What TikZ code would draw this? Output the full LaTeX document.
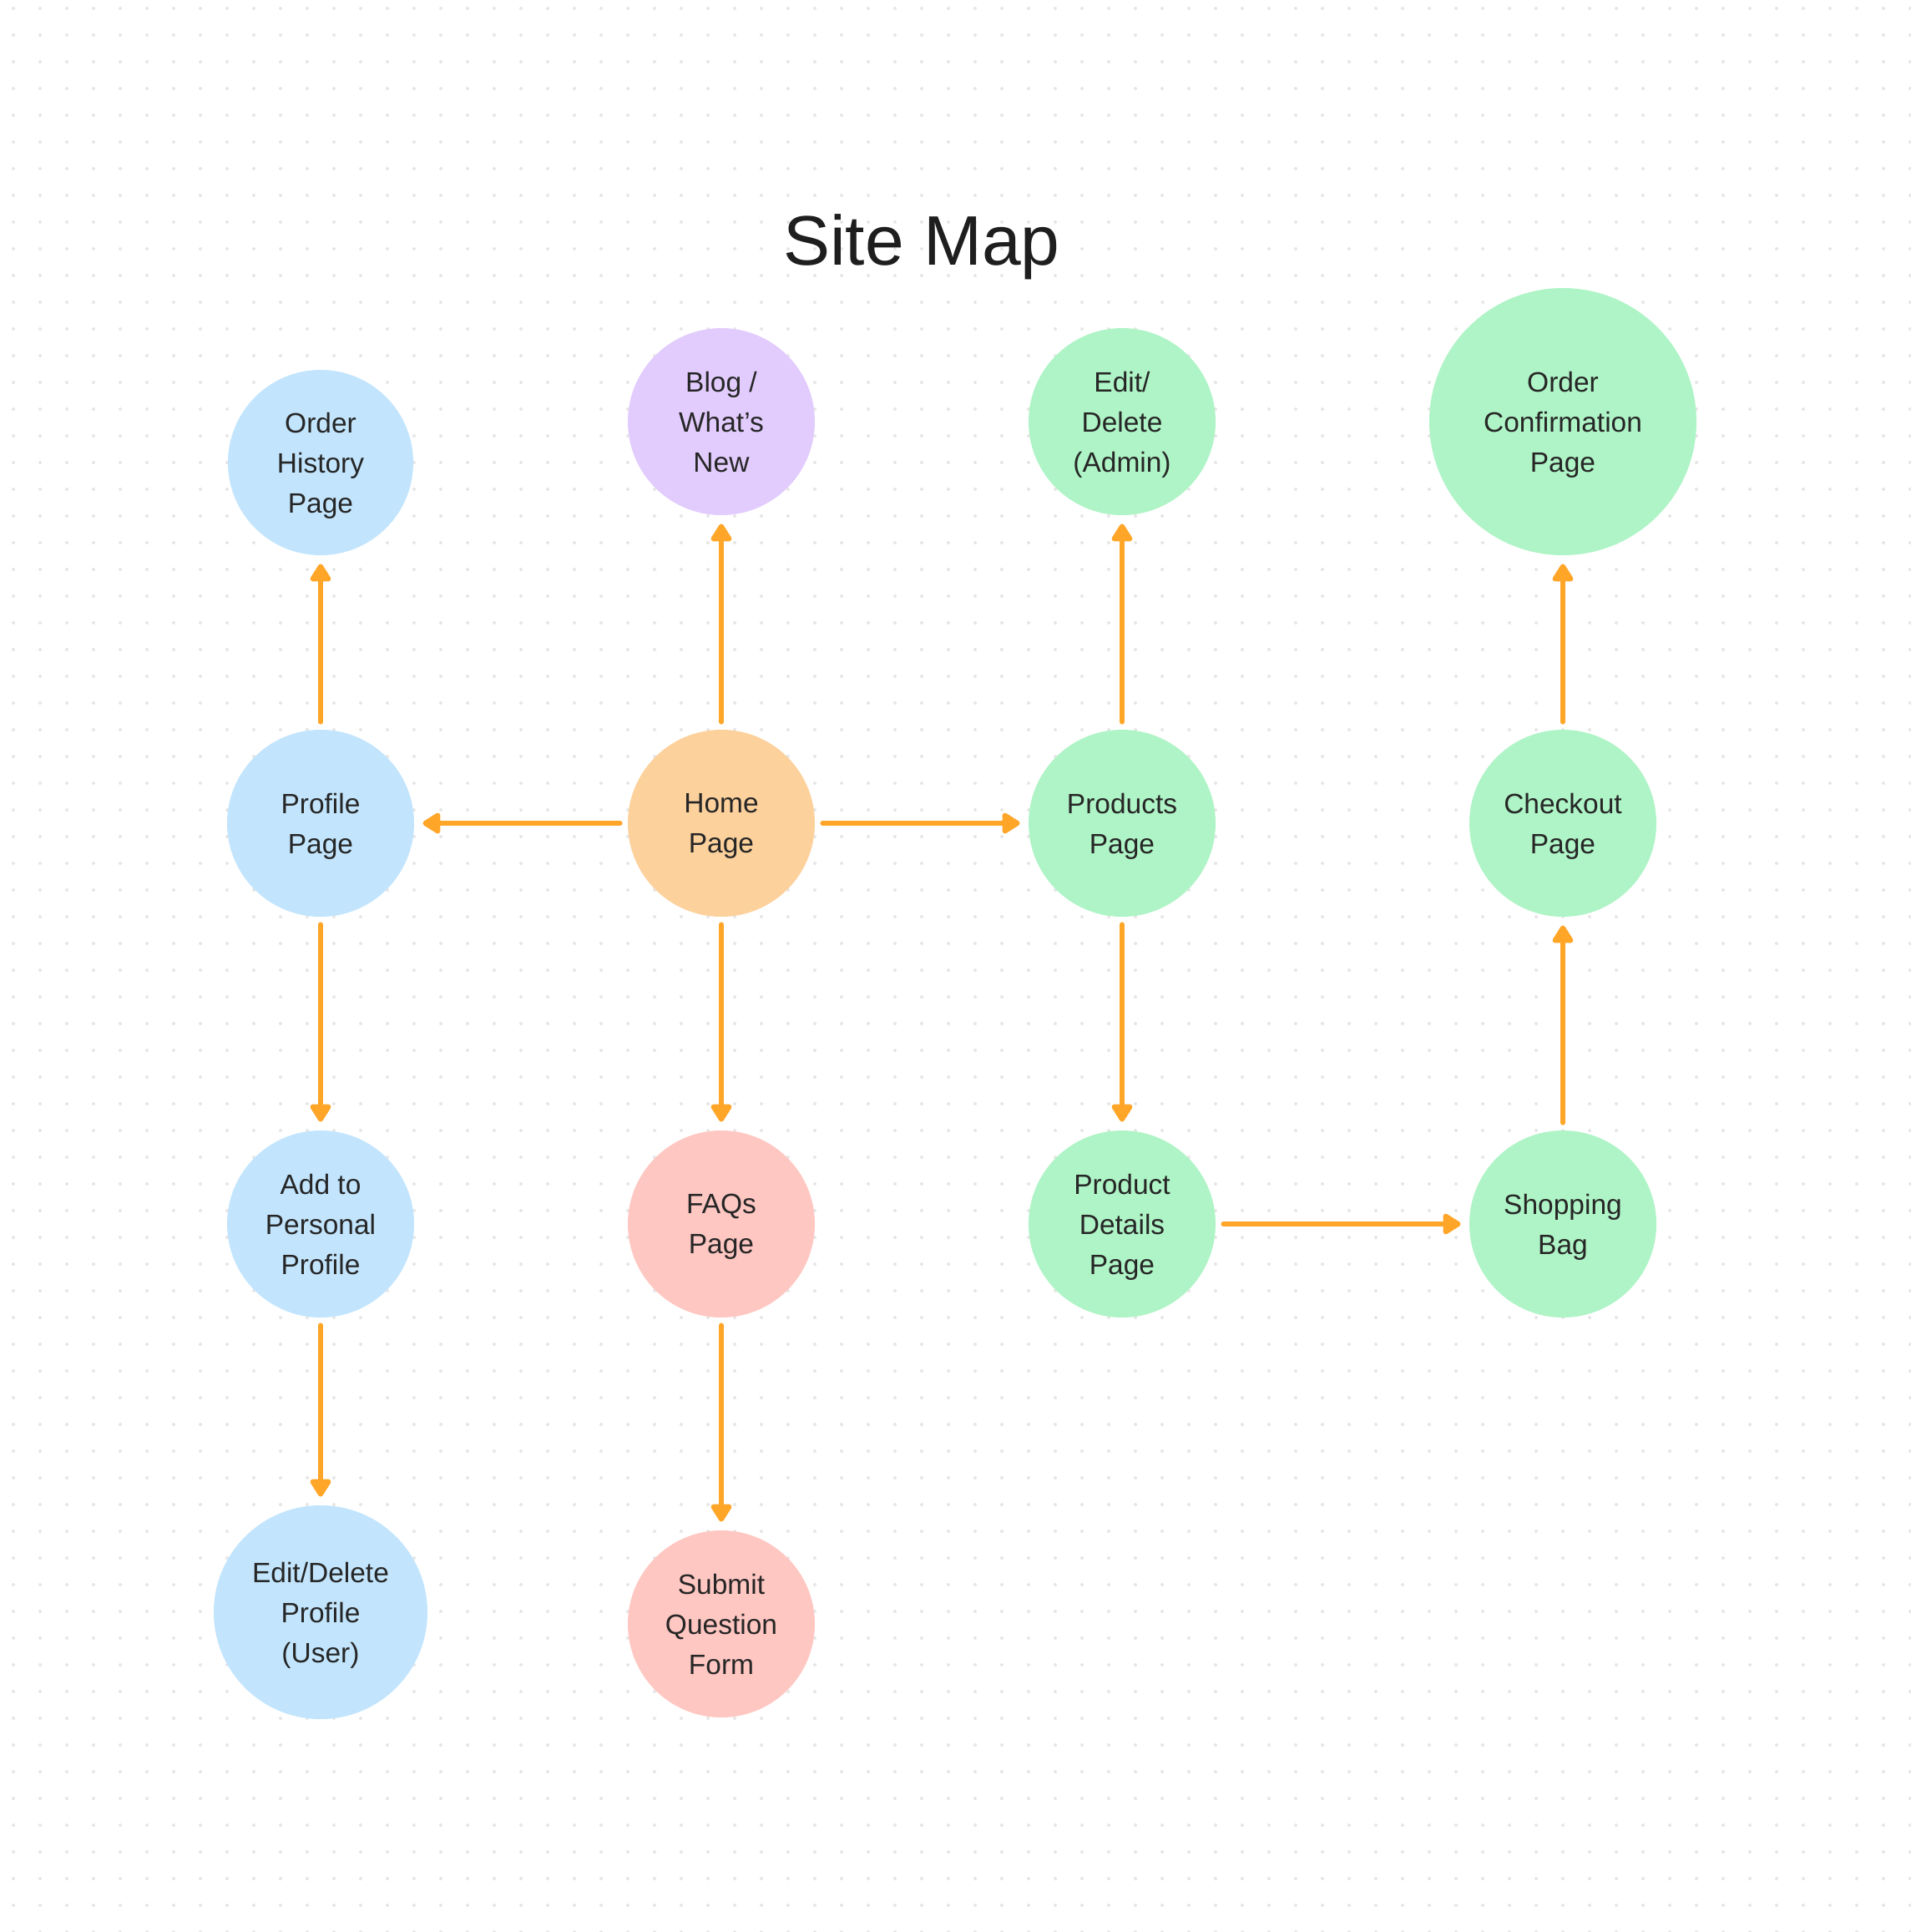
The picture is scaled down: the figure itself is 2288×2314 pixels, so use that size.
\documentclass[tikz,border=0pt]{standalone}
\usepackage{fontspec}
\setmainfont{Liberation Sans}
\usetikzlibrary{arrows.meta}
\definecolor{bluec}{HTML}{C2E5FD}
\definecolor{purplec}{HTML}{E2CCFD}
\definecolor{greenc}{HTML}{AFF4C6}
\definecolor{orangec}{HTML}{FCD19C}
\definecolor{pinkc}{HTML}{FFC7C2}
\definecolor{arrowc}{HTML}{FFA629}
\definecolor{dotc}{HTML}{E6E6E6}
\definecolor{textc}{HTML}{262626}
\definecolor{titlec}{HTML}{1E1E1E}
\tikzset{
  pagenode/.style={circle, inner sep=0pt, minimum size=112pt, align=center,
    text=textc, text depth=0pt, font=\fontsize{16.75pt}{24pt}\selectfont},
  arr/.style={draw=arrowc, line width=3pt, line cap=round,
    -{Triangle[length=12pt,width=14pt,round]},
    shorten <=4.5pt, shorten >=5pt}
}
\begin{document}
\begin{tikzpicture}[x=0.5pt,y=-0.5pt]
\useasboundingbox[fill=white] (0,0) rectangle (2288,2314);
\foreach \i in {0,...,71}{
  \foreach \j in {0,...,72}{
    \fill[dotc] (16+32*\i,10+32*\j) circle (1pt);
  }
}
\node[anchor=base, text=titlec, font=\fontsize{42pt}{48pt}\selectfont] (title) at (1104,317) {Site Map};

\node[pagenode, fill=bluec, minimum size=111pt] (hist) at (384,554) {Order\\History\\Page};
\node[pagenode, fill=purplec] (blog) at (864,505) {Blog /\\What’s\\New};
\node[pagenode, fill=greenc] (admin) at (1344,505) {Edit/\\Delete\\(Admin)};
\node[pagenode, fill=greenc, minimum size=160pt] (conf) at (1872,505) {Order\\Confirmation\\Page};

\node[pagenode, fill=bluec] (prof) at (384,986) {Profile\\Page};
\node[pagenode, fill=orangec] (home) at (864,986) {Home\\Page};
\node[pagenode, fill=greenc] (prod) at (1344,986) {Products\\Page};
\node[pagenode, fill=greenc] (check) at (1872,986) {Checkout\\Page};

\node[pagenode, fill=bluec] (add) at (384,1466) {Add to\\Personal\\Profile};
\node[pagenode, fill=pinkc] (faq) at (864,1466) {FAQs\\Page};
\node[pagenode, fill=greenc] (det) at (1344,1466) {Product\\Details\\Page};
\node[pagenode, fill=greenc] (bag) at (1872,1466) {Shopping\\Bag};

\node[pagenode, fill=bluec, minimum size=128pt] (edp) at (384,1931) {Edit/Delete\\Profile\\(User)};
\node[pagenode, fill=pinkc] (sub) at (864,1945) {Submit\\Question\\Form};

\draw[arr] (home) -- (prof);
\draw[arr] (home) -- (prod);
\draw[arr] (home) -- (blog);
\draw[arr] (home) -- (faq);
\draw[arr] (prof) -- (hist);
\draw[arr] (prof) -- (add);
\draw[arr] (add) -- (edp);
\draw[arr] (faq) -- (sub);
\draw[arr] (prod) -- (admin);
\draw[arr] (prod) -- (det);
\draw[arr] (det) -- (bag);
\draw[arr] (bag) -- (check);
\draw[arr] (check) -- (conf);
\end{tikzpicture}
\end{document}
